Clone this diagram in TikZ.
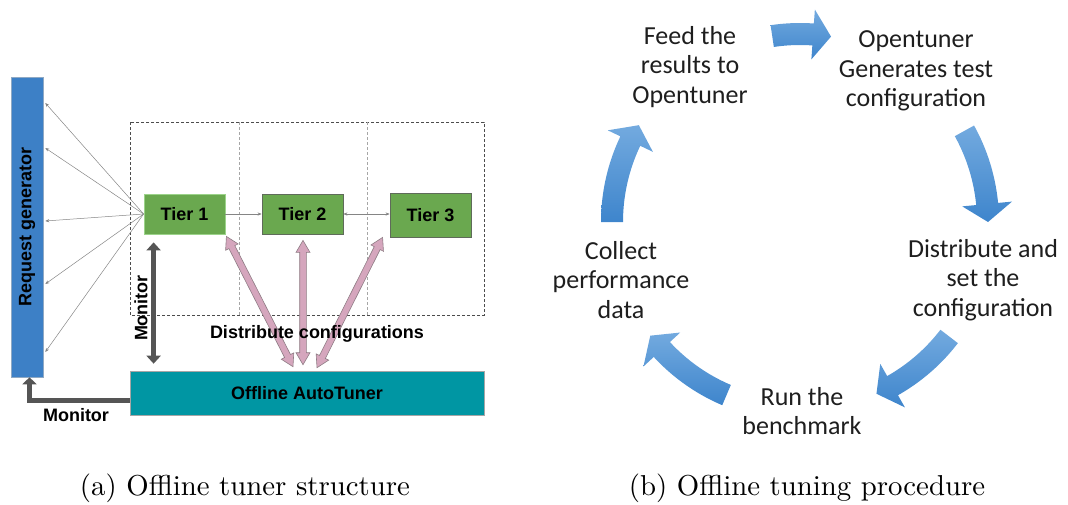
\documentclass[tikz,border=0pt]{standalone}
\usepackage{fontspec}
\newfontfamily\armfont{Liberation Sans}
\newfontfamily\calfont{Carlito}
\newfontfamily\capfont{lmroman10-regular}[Extension=.otf]
\usetikzlibrary{calc,arrows.meta}

\definecolor{reqblue}{HTML}{3D80C6}
\definecolor{reqedge}{HTML}{8FA9C4}
\definecolor{tiergreen}{HTML}{6AA84F}
\definecolor{tierlight}{HTML}{9CD38A}
\definecolor{tierdark}{HTML}{5F6B5A}
\definecolor{tunerteal}{HTML}{0096A3}
\definecolor{monigray}{HTML}{555555}
\definecolor{raygray}{HTML}{858585}
\definecolor{cfgpink}{HTML}{D5A6BD}
\definecolor{cfgedge}{HTML}{8E7C84}
\definecolor{cycletop}{HTML}{73AADF}
\definecolor{cyclebot}{HTML}{3E85CC}
\definecolor{cycletext}{HTML}{1E1E1E}

% double-headed block arrow between two points
\newcommand\cfgarrow[2]{%
  \coordinate (ca) at (#1);
  \coordinate (cb) at (#2);
  \coordinate (ha) at ($(ca)!12pt!(cb)$);
  \coordinate (hb) at ($(cb)!12pt!(ca)$);
  \filldraw[cfgarr] (ca) -- ($(ha)!7pt!90:(cb)$) -- ($(ha)!3.3pt!90:(cb)$)
    -- ($(hb)!3.3pt!-90:(ca)$) -- ($(hb)!7pt!-90:(ca)$) -- (cb)
    -- ($(hb)!7pt!90:(ca)$) -- ($(hb)!3.3pt!90:(ca)$)
    -- ($(ha)!3.3pt!-90:(cb)$) -- ($(ha)!7pt!-90:(cb)$) -- cycle;}

% curved block arrow on the tuning cycle: start angle, tip angle
\newcommand\cyclearrow[2]{%
  \pgfmathsetmacro\hang{#2-5.5}%
  \shade[cyclearr] plot[domain=#1:\hang, samples=30] ({800+199*cos(\x)},{222+199*sin(\x)})
    -- ({800+213*cos(\hang)},{222+213*sin(\hang)})
    -- ({800+188*cos(#2)},{222+188*sin(#2)})
    -- ({800+163*cos(\hang)},{222+163*sin(\hang)})
    -- plot[domain=\hang:#1, samples=30] ({800+177*cos(\x)},{222+177*sin(\x)})
    -- cycle;}

\begin{document}
\begin{tikzpicture}[x=1pt,y=-1pt,
  lbl/.style={font=\armfont\bfseries\fontsize{18}{21}\selectfont, text=black},
  reqbox/.style={rectangle, fill=reqblue, draw=reqedge, line width=0.6pt, inner sep=0pt, lbl},
  tierbox/.style={rectangle, fill=tiergreen, draw=#1, line width=0.8pt,
    minimum width=81pt, minimum height=40pt, inner sep=0pt, lbl},
  tunerbox/.style={rectangle, fill=tunerteal, draw=gray!70, line width=0.6pt,
    minimum width=354pt, minimum height=44pt, inner sep=0pt, lbl},
  ray/.style={draw=raygray, line width=0.5pt, -{Stealth[length=4pt,width=3.2pt]}},
  link/.style={draw=raygray, line width=0.5pt},
  monarrow/.style={draw=monigray, line width=5pt},
  cfgarr/.style={fill=cfgpink, draw=cfgedge, line width=0.6pt},
  cyclearr/.style={top color=cycletop, bottom color=cyclebot},
  cyc/.style={font=\calfont\fontsize{26}{29.5}\selectfont, text=cycletext, align=center},
  captext/.style={font=\capfont\fontsize{28.8}{34}\selectfont, text=black}
]
\useasboundingbox (0,0) rectangle (1068,504);

% ---------- (a) offline tuner structure ----------
% tier panels
\draw[draw=black!70, line width=0.6pt, dash pattern=on 3pt off 2pt] (130,122) rectangle (484,315);
\draw[draw=black!35, line width=0.6pt, dash pattern=on 3pt off 2pt] (239,122) -- (239,315);
\draw[draw=black!35, line width=0.6pt, dash pattern=on 3pt off 2pt] (367,122) -- (367,315);

\node[reqbox, rotate=90, minimum width=300pt, minimum height=32pt] (req) at (27,227) {Request generator};

\node[tierbox=tierlight] (t1) at (184.5,214) {Tier 1};
\node[tierbox=tierdark] (t2) at (302.5,214) {Tier 2};
\node[tierbox=tierdark, minimum height=44pt] (t3) at (430.5,215) {Tier 3};

\node[tunerbox] (tuner) at (307,393) {Offline AutoTuner};

% requests fanning out from tier 1
\foreach \yy in {103,148,221,284,352}
  \draw[ray] (t1.west) -- ($(req.south |- 0,\yy)+(2,0)$);

\draw[link, -{Stealth[length=4pt,width=3.2pt]}] (t1.east) -- (t2.west);
\draw[link, {Stealth[length=4pt,width=3.2pt]}-{Stealth[length=4pt,width=3.2pt]}] (t2.east) -- (t3.west |- t2.east);

% monitoring paths
\draw[monarrow, {Triangle[length=8pt,width=14pt]}-{Triangle[length=8pt,width=14pt]}]
  ($(t1.south west)+(10,8)$) -- ($(t1.south west |- tuner.north)+(10,-7)$);
\draw[monarrow, -{Triangle[length=7pt,width=14pt]}]
  ($(tuner.west)+(0,7)$) -| ($(req.west)+(2.5,0)$);

% configuration distribution
\cfgarrow{$(t1.south east)+(1,2)$}{$(tuner.north)+(-14,-4)$}
\cfgarrow{$(t2.south)+(0.5,6)$}{$(tuner.north)+(-4,-6)$}
\cfgarrow{$(t3.south west)+(-7,0)$}{$(tuner.north)+(10,-3)$}
\node[lbl] (dist) at (317,334) {Distribute configurations};

\node[lbl, rotate=90] (mon1) at (141,308) {Monitor};
\node[lbl] (mon2) at (76,415) {Monitor};

% ---------- (b) offline tuning procedure ----------
\cyclearrow{-98.5}{-80.5}
\cyclearrow{-29}{0}
\cyclearrow{37.5}{66}
\cyclearrow{113}{142.8}
\cyclearrow{180}{211}

\node[cyc] (feed) at (690,67) {Feed the\\results to\\Opentuner};
\node[cyc] (gen) at (916,71) {Opentuner\\Generates test\\configuration};
\node[cyc] (setc) at (983,280) {Distribute and\\set the\\configuration};
\node[cyc] (run) at (802,411) {Run the\\benchmark};
\node[cyc] (coll) at (621,280) {Collect\\performance\\data};

% ---------- captions ----------
\node[captext] (capa) at (245,488) {(a) Offline tuner structure};
\node[captext] (capb) at (807,488) {(b) Offline tuning procedure};
\end{tikzpicture}
\end{document}
